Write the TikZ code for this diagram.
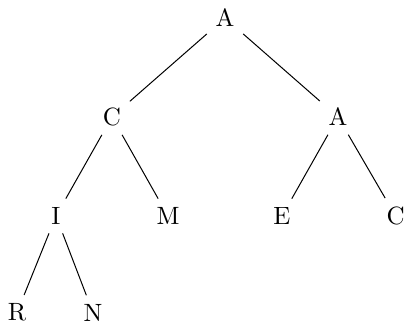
\documentclass[tikz,border=0pt]{standalone}
\usepackage{tikz}

\begin{document}
\begin{tikzpicture}[
    letter/.style={inner sep=3.33pt},
    branch/.style={thin}
]
\useasboundingbox (0,0) rectangle (5.707,4.554);

% root and first level
\node[letter] (root) at (3.163,4.301) {A};
\node[letter] (left) at (1.574,2.910) {C};
\node[letter] (right) at (4.751,2.910) {A};

% second level
\node[letter] (li) at (0.787,1.518) {I};
\node[letter] (lm) at (2.361,1.518) {M};
\node[letter] (re) at (3.964,1.518) {E};
\node[letter] (rc) at (5.560,1.518) {C};

% third level
\node[letter] (lir) at (0.239,0.160) {R};
\node[letter] (lin) at (1.307,0.160) {N};

\draw[branch] (root) -- (left);
\draw[branch] (root) -- (right);
\draw[branch] (left) -- (li);
\draw[branch] (left) -- (lm);
\draw[branch] (right) -- (re);
\draw[branch] (right) -- (rc);
\draw[branch] (li) -- (lir);
\draw[branch] (li) -- (lin);
\end{tikzpicture}
\end{document}
